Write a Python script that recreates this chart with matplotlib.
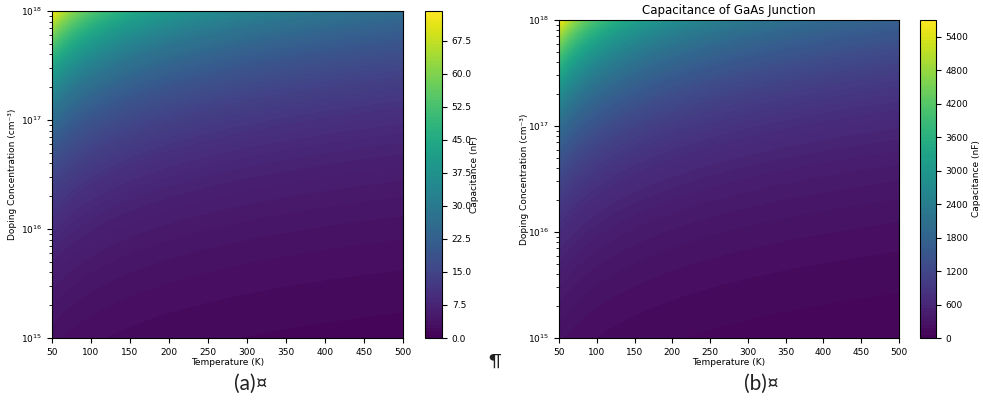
import numpy as np
import matplotlib.pyplot as plt

# axis ranges
temperature = np.linspace(50, 500, 300)      # K
doping = np.logspace(15, 18, 300)            # cm^-3

# capacitance at 50 K and 1e18 cm^-3 (nF)
peak_a = 73.8
peak_b = 5690.0
# how fast it drops with doping and temperature
n_exp = 0.45
t_exp_a = 0.45
t_exp_b = 0.52
# contour level spacing
step_a = 0.75
step_b = 60.0

T, N = np.meshgrid(temperature, doping)
cap_a = peak_a * (N / 1e18) ** n_exp * (50 / T) ** t_exp_a
cap_b = peak_b * (N / 1e18) ** n_exp * (50 / T) ** t_exp_b

levels_a = np.arange(0, peak_a + step_a, step_a)
levels_b = np.arange(0, peak_b + step_b, step_b)

W, H = 983, 401
fig = plt.figure(figsize=(W / 100, H / 100), dpi=100)

def panel(ax_box, cb_box, cap, levels, ypad, cbpad, title=None):
    ax = fig.add_axes(ax_box)
    cax = fig.add_axes(cb_box)
    cs = ax.contourf(T, N, cap, levels=levels, cmap='viridis')
    ax.set_yscale('log')
    ax.set_xlim(50, 500)
    ax.set_ylim(1e15, 1e18)
    ax.set_xticks(np.arange(50, 501, 50))
    ax.tick_params(labelsize=6.5)
    ax.set_xlabel('Temperature (K)', fontsize=6.5, labelpad=1)
    ax.set_ylabel('Doping Concentration (cm⁻³)', fontsize=6.5, labelpad=ypad)
    if title:
        ax.set_title(title, fontsize=8.5, pad=4)
    cb = fig.colorbar(cs, cax=cax)
    cb.ax.tick_params(labelsize=6.5)
    cb.set_label('Capacitance (nF)', fontsize=6.5, labelpad=cbpad)
    return ax

panel([52 / W, 1 - 338 / H, 351 / W, 327 / H],
      [425 / W, 1 - 338 / H, 17 / W, 327 / H], cap_a, levels_a, 3, -1)
panel([559 / W, 1 - 338 / H, 340 / W, 318 / H],
      [920 / W, 1 - 338 / H, 16 / W, 318 / H], cap_b, levels_b, -1, 2,
      title='Capacitance of GaAs Junction')

# caption marks from the document
fig.text(251 / W, 1 - 384 / H, '(a)¤', fontsize=15, ha='center', va='center',
         family=['Lato', 'DejaVu Sans'], color='#222222')
fig.text(762 / W, 1 - 384 / H, '(b)¤', fontsize=15, ha='center', va='center',
         family=['Lato', 'DejaVu Sans'], color='#222222')
fig.text(495 / W, 1 - 362 / H, '¶', fontsize=13, ha='center', va='center',
         family=['Lato', 'DejaVu Sans'], color='#222222')

fig.savefig('out.png', dpi=100)
